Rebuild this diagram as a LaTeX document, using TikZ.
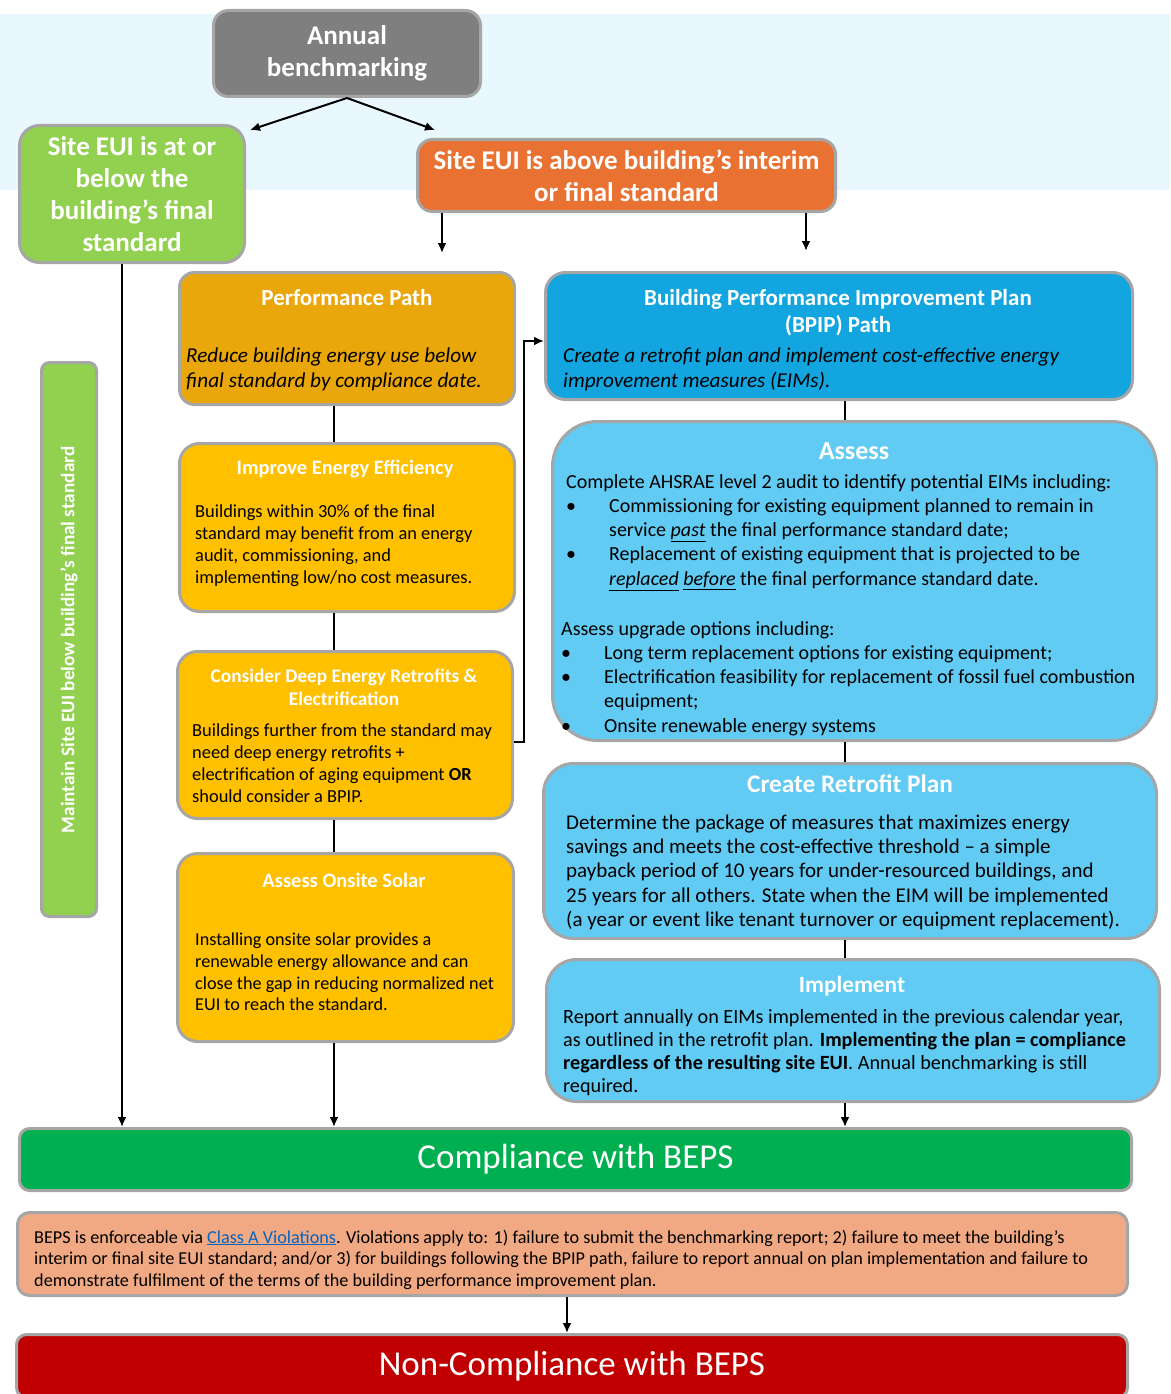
\documentclass[tikz,border=0pt]{standalone}
\usepackage{fontspec}
\setmainfont{Carlito}
\usetikzlibrary{arrows.meta}

\definecolor{bandblue}{RGB}{232,248,254}
\definecolor{edgegray}{RGB}{166,166,166}
\definecolor{annualgray}{RGB}{127,127,127}
\definecolor{sitegreen}{RGB}{146,208,80}
\definecolor{siteorange}{RGB}{233,113,50}
\definecolor{perfamber}{RGB}{233,167,12}
\definecolor{stepyellow}{RGB}{255,192,0}
\definecolor{bpipblue}{RGB}{18,165,224}
\definecolor{stepblue}{RGB}{97,203,243}
\definecolor{okgreen}{RGB}{0,176,80}
\definecolor{violsalmon}{RGB}{241,169,131}
\definecolor{badred}{RGB}{192,0,0}
\definecolor{linkblue}{RGB}{5,99,193}

\newcommand{\fsz}[2]{\fontsize{#1}{#2}\selectfont}

\begin{document}
\begin{tikzpicture}[x=1pt,y=-1pt,>={Latex[length=10pt,width=9pt]},
  box/.style={draw=edgegray,line width=3pt,rounded corners=15pt,inner sep=0pt},
  head/.style={text=white,font=\bfseries\fsz{27}{32},align=center},
  title/.style={text=white,font=\bfseries\fsz{20}{24},align=center},
  body/.style={font=\fsz{18.4}{22},align=left,anchor=north west,inner sep=0pt},
  link/.style={line width=2pt}]
  \useasboundingbox (0,0) rectangle (1170,1394);
  \fill[bandblue] (0,14) rectangle (1170,190);

  % top of the chart
  \node[box,head,fill=annualgray,minimum width=267pt,minimum height=86pt] (annual) at (347,53.5) {Annual\\benchmarking};
  \node[box,head,fill=sitegreen,minimum width=225pt,minimum height=137pt,rounded corners=20pt] (below) at (132,194) {Site EUI is at or\\below the\\building’s final\\standard};
  \node[box,head,fill=siteorange,minimum width=418pt,minimum height=72pt] (above) at (626.5,175.5) {Site EUI is above building’s interim\\or final standard};
  \node[box,fill=sitegreen,minimum width=55pt,minimum height=554pt,rounded corners=8pt] (maintain) at (69,639.5) {};
  \node[text=white,font=\bfseries\fsz{19.2}{22},rotate=90] (maintaintxt) at (69,640) {Maintain Site EUI below building’s final standard};

  % performance path
  \node[box,fill=perfamber,minimum width=335pt,minimum height=132pt] (perf) at (347,338.5) {};
  \node[title,font=\bfseries\fsz{23}{26}] (perftitle) at (347,298) {Performance Path};
  \node[body,font=\itshape\fsz{21.2}{25}] (perftxt) at (186,347.5) {Reduce building energy use below\\final standard by compliance date.};

  \node[box,fill=stepyellow,minimum width=335pt,minimum height=168pt,rounded corners=20pt] (eff) at (347,527.5) {};
  \node[title,font=\bfseries\fsz{20.4}{23}] (efftitle) at (345,469) {Improve Energy Efficiency};
  \node[body] (efftxt) at (195,505) {Buildings within 30\% of the final\\standard may benefit from an energy\\audit, commissioning, and\\implementing low/no cost measures.};

  \node[box,fill=stepyellow,minimum width=335pt,minimum height=167pt,rounded corners=20pt] (deep) at (345,735) {};
  \node[title,font=\bfseries\fsz{19.3}{23}] (deeptitle) at (344,687.5) {Consider Deep Energy Retrofits \&\\Electrification};
  \node[body,font=\fsz{18.4}{21.7}] (deeptxt) at (192,724) {Buildings further from the standard may\\need deep energy retrofits +\\electrification of aging equipment \textbf{OR}\\should consider a BPIP.};

  \node[box,fill=stepyellow,minimum width=336pt,minimum height=188pt,rounded corners=20pt] (solar) at (345.5,947.5) {};
  \node[title,font=\bfseries\fsz{20.5}{23}] (solartitle) at (344,880) {Assess Onsite Solar};
  \node[body,font=\fsz{18.2}{21.7}] (solartxt) at (195,933) {Installing onsite solar provides a\\renewable energy allowance and can\\close the gap in reducing normalized net\\EUI to reach the standard.};

  % BPIP path
  \node[box,fill=bpipblue,minimum width=587pt,minimum height=127pt,rounded corners=20pt] (bpip) at (839,336) {};
  \node[title,font=\bfseries\fsz{23}{27}] (bpiptitle) at (838,312.5) {Building Performance Improvement Plan\\(BPIP) Path};
  \node[body,font=\itshape\fsz{21.2}{25}] (bpiptxt) at (563,347.5) {Create a retrofit plan and implement cost-effective energy\\improvement measures (EIMs).};

  \node[box,fill=stepblue,minimum width=604pt,minimum height=319pt,rounded corners=45pt] (assess) at (854.5,581) {};
  \node[title,font=\bfseries\fsz{26}{30}] (assesstitle) at (854,451) {Assess};
  \node[body,font=\fsz{20}{24.25}] (assesstxt) at (566,474) {Complete AHSRAE level 2 audit to identify potential EIMs including:\\
    \makebox[43pt][l]{\textbullet}Commissioning for existing equipment planned to remain in\\
    \hspace*{43pt}service \underline{\textit{past}} the final performance standard date;\\
    \makebox[43pt][l]{\textbullet}Replacement of existing equipment that is projected to be\\
    \hspace*{43pt}\underline{\textit{replaced}} \underline{\textit{before}} the final performance standard date.};
  \node[body,font=\fsz{20}{24.25}] (upgradetxt) at (561,621) {Assess upgrade options including:\\
    \makebox[43pt][l]{\textbullet}Long term replacement options for existing equipment;\\
    \makebox[43pt][l]{\textbullet}Electrification feasibility for replacement of fossil fuel combustion\\
    \hspace*{43pt}equipment;\\
    \makebox[43pt][l]{\textbullet}Onsite renewable energy systems};

  \node[box,fill=stepblue,minimum width=613pt,minimum height=175pt,rounded corners=30pt] (plan) at (850,851) {};
  \node[title,font=\bfseries\fsz{25.3}{28}] (plantitle) at (850,784) {Create Retrofit Plan};
  \node[body,font=\fsz{21}{24.3}] (plantxt) at (566,814.5) {Determine the package of measures that maximizes energy\\savings and meets the cost-effective threshold – a simple\\payback period of 10 years for under-resourced buildings, and\\25 years for all others. State when the EIM will be implemented\\(a year or event like tenant turnover or equipment replacement).};

  \node[box,fill=stepblue,minimum width=613pt,minimum height=142pt,rounded corners=30pt] (impl) at (853,1030.5) {};
  \node[title,font=\bfseries\fsz{23.3}{26}] (impltitle) at (852,986) {Implement};
  \node[body,font=\fsz{20.2}{23}] (impltxt) at (563,1009) {Report annually on EIMs implemented in the previous calendar year,\\as outlined in the retrofit plan. \textbf{Implementing the plan = compliance}\\\textbf{regardless of the resulting site EUI}. Annual benchmarking is still\\required.};

  % outcomes
  \node[box,fill=okgreen,text=white,font=\fsz{35}{40},minimum width=1112pt,minimum height=62pt,rounded corners=10pt] (comply) at (575.5,1159.5) {Compliance with BEPS};
  \node[box,fill=violsalmon,minimum width=1110pt,minimum height=83pt,rounded corners=12pt] (viol) at (572.5,1254) {};
  \node[body,font=\fsz{18.2}{21.5}] (violtxt) at (34,1229.5) {BEPS is enforceable via \textcolor{linkblue}{\underline{Class A Violations}}. Violations apply to: 1) failure to submit the benchmarking report; 2) failure to meet the building’s\\interim or final site EUI standard; and/or 3) for buildings following the BPIP path, failure to report annual on plan implementation and failure to\\demonstrate fulfilment of the terms of the building performance improvement plan.};
  \node[box,fill=badred,text=white,font=\fsz{35}{40},minimum width=1111pt,minimum height=63pt,rounded corners=10pt] (noncomply) at (572,1366) {Non-Compliance with BEPS};

  % connectors
  \coordinate (toleft) at (250,130);
  \coordinate (toright) at (435,130);
  \coordinate (perfin) at (442,253);
  \coordinate (bpipin) at (806,251);
  \coordinate (gspine) at (122,0);
  \coordinate (pspine) at (334,0);
  \coordinate (bspine) at (845,0);
  \coordinate (vspine) at (567,0);
  \draw[link,->] (annual.south) -- (toleft);
  \draw[link,->] (annual.south) -- (toright);
  \draw[link,->] (above.south -| perfin) -- (perfin);
  \draw[link,->] (above.south -| bpipin) -- (bpipin);
  \draw[link,->] (below.south -| gspine) -- (comply.north -| gspine);
  \draw[link] (perf.south -| pspine) -- (eff.north -| pspine);
  \draw[link] (eff.south -| pspine) -- (deep.north -| pspine);
  \draw[link] (deep.south -| pspine) -- (solar.north -| pspine);
  \draw[link,->] (solar.south -| pspine) -- (comply.north -| pspine);
  \draw[link,->] ([yshift=-7pt]deep.east) -- ++(10,0) |- ([yshift=-5pt]bpip.west);
  \draw[link] (bpip.south -| bspine) -- (assess.north -| bspine);
  \draw[link] (assess.south -| bspine) -- (plan.north -| bspine);
  \draw[link] (plan.south -| bspine) -- (impl.north -| bspine);
  \draw[link,->] (impl.south -| bspine) -- (comply.north -| bspine);
  \draw[link,->] (viol.south -| vspine) -- (noncomply.north -| vspine);
\end{tikzpicture}
\end{document}
